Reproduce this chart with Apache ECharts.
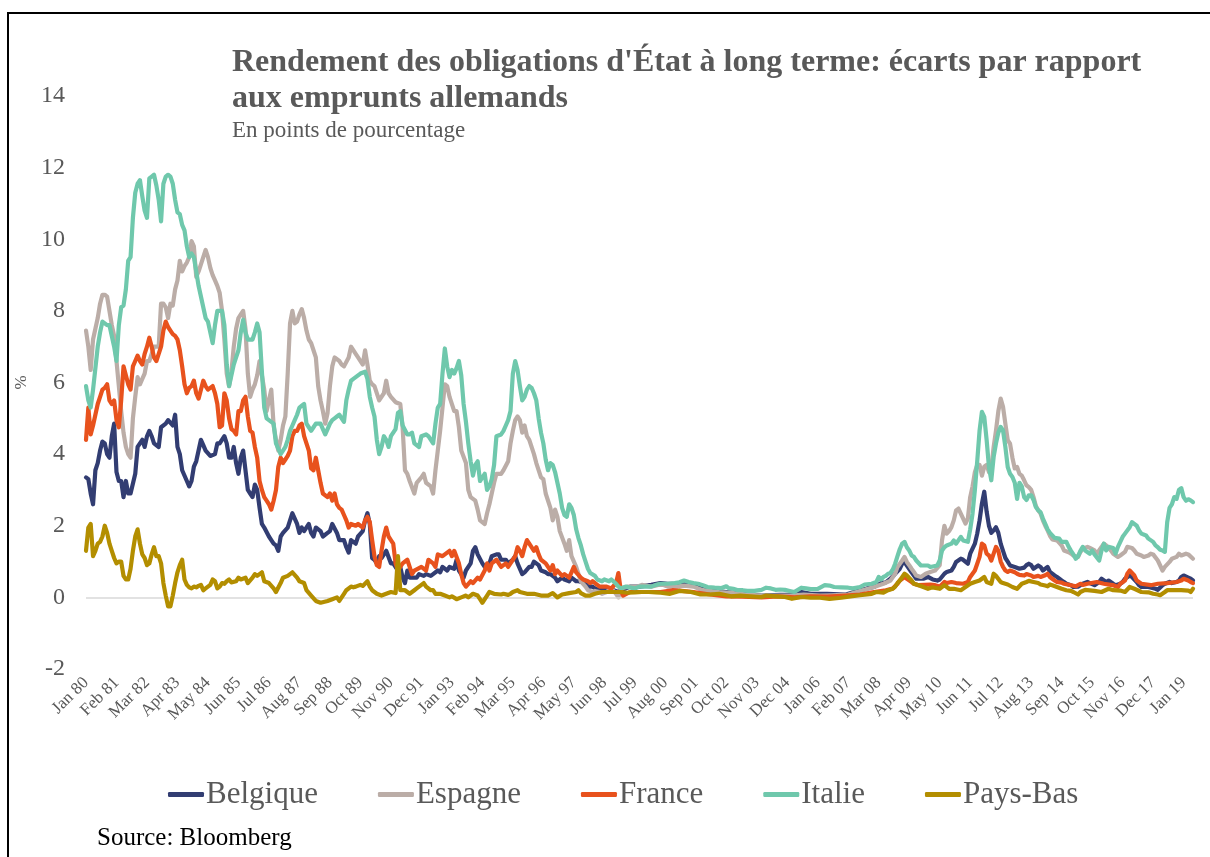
<!DOCTYPE html>
<html>
<head>
<meta charset="utf-8">
<script src="https://cdn.jsdelivr.net/npm/echarts@6/dist/echarts.min.js"></script>
<style>
html,body{margin:0;padding:0;background:#fff;}
#chart{width:1210px;height:857px;}
</style>
</head>
<body>
<div id="chart"></div>
<script>
// x = months since Jan 1980
var tickLabels = ['Jan 80','Feb 81','Mar 82','Apr 83','May 84','Jun 85','Jul 86','Aug 87','Sep 88','Oct 89','Nov 90','Dec 91','Jan 93','Feb 94','Mar 95','Apr 96','May 97','Jun 98','Jul 99','Aug 00','Sep 01','Oct 02','Nov 03','Dec 04','Jan 06','Feb 07','Mar 08','Apr 09','May 10','Jun 11','Jul 12','Aug 13','Sep 14','Oct 15','Nov 16','Dec 17','Jan 19'];
var seriesNames = ['Belgique','Espagne','France','Italie','Pays-Bas'];

var belgique = [[0,3.35],[1,3.3],[2,2.9],[3,2.6],[4,3.55],[5,3.75],[6,4.1],[7,4.35],[8,4.3],[9,4.0],[10,3.9],[11,4.5],[12,4.85],[13,3.5],[14,3.25],[15,3.25],[16,2.8],[17,3.25],[18,2.9],[19,2.9],[21,3.45],[22,4.2],[24,4.4],[25,4.2],[26,4.5],[27,4.65],[28,4.5],[29,4.3],[31,4.2],[32,4.75],[34,4.85],[35,4.95],[37,4.8],[38,5.1],[39,4.2],[40,4.0],[41,3.55],[43,3.25],[44,3.1],[45,3.25],[46,3.65],[47,3.8],[49,4.4],[50,4.25],[51,4.1],[53,3.95],[55,4.0],[56,4.3],[57,4.3],[59,4.5],[60,4.3],[61,3.9],
[62,3.9],[63,4.2],[64,3.75],[65,3.45],[66,3.9],[67,4.1],[68,3.55],[69,3.0],[70,2.9],[71,2.8],[72,3.15],[73,3.0],[74,2.5],[75,2.05],[76,1.95],[78,1.7],[79,1.6],[80,1.5],[81,1.45],[82,1.3],[83,1.7],[84,1.8],[86,1.95],[87,2.15],[88,2.35],[89,2.2],[90,2.05],[91,1.8],[92,1.95],[93,1.85],[95,2.05],[96,1.8],[97,1.7],[98,1.95],[100,1.85],[101,1.7],[103,1.8],[104,1.85],[105,2.05],[107,1.8],[108,1.6],[110,1.6],[111,1.4],[112,1.25],[113,1.6],[115,1.5],[116,1.7],[118,1.85],[119,2.15],[120,2.35],[121,2.05],[122,1.1],
[123,1.05],[124,0.95],[125,1.15],[126,1.1],[128,1.3],[130,0.95],[131,0.95],[133,0.75],[134,0.85],[135,0.55],[136,0.4],[137,0.75],[138,0.55],[141,0.55],[142,0.65],[144,0.6],[145,0.65],[147,0.6],[148,0.65],[150,0.75],[151,0.7],[152,0.85],[154,0.75],[155,0.85],[157,0.8],[158,1.05],[159,0.75],[161,0.55],[162,0.75],[164,0.95],[165,1.3],[166,1.4],[167,1.2],[169,0.95],[170,0.85],[172,0.95],[173,1.15],[175,1.2],[176,1.2],[177,1.05],[179,1.05],[180,0.95],[182,1.05],[183,1.15],[184,0.95],
[186,0.65],[187,0.7],[189,0.85],[190,0.85],[191,1.0],[193,0.9],[194,0.75],[196,0.7],[197,0.65],[198,0.65],[200,0.55],[201,0.45],[203,0.55],[204,0.5],[206,0.45],[207,0.55],[209,0.45],[210,0.45],[213,0.4],[214,0.3],[216,0.3],[217,0.25],[219,0.2],[221,0.2],[223,0.2],[225,0.2],[227,0.15],[228,0.2],[230,0.25],[232,0.3],[236,0.3],[241,0.35],[245,0.4],
[248,0.38],[253,0.38],[259,0.34],[266,0.2],[273,0.15],[280,0.1],[288,0.05],[296,0.07],[302,0.07],[305,0.15],[309,0.1],[316,0.1],[324,0.08],[330,0.2],[333,0.25],[336,0.29],[339,0.4],[341,0.42],[343,0.52],[345,0.66],[347,0.8],[348,0.94],[349,0.99],[350,0.89],[352,0.7],[353,0.61],[354,0.52],[357,0.52],[359,0.57],[361,0.5],[363,0.47],[364,0.5],[366,0.66],[367,0.71],[369,0.75],[370,0.85],[371,0.99],[373,1.08],[374,1.05],[376,0.94],[377,1.22],[379,1.5],[380,1.78],[381,2.15],[382,2.62],[383,2.95],[384,2.4],[385,2.0],[386,1.8],[387,1.87],[388,1.96],[389,1.8],[390,1.5],[391,1.3],[392,1.1],[393,1.0],[394,0.89],[396,0.85],[398,0.8],[400,0.83],[401,0.9],[402,0.94],[403,0.9],[404,0.8],[406,0.89],[407,0.85],[408,0.75],[410,0.85],[411,0.71],[413,0.61],[414,0.57],[416,0.47],[417,0.43],[418,0.38],[420,0.34],[421,0.29],[423,0.3],[424,0.34],[425,0.38],[427,0.43],[428,0.4],[430,0.34],[432,0.43],[433,0.52],[435,0.43],[436,0.47],[438,0.38],[439,0.34],[441,0.38],[442,0.43],[443,0.52],[445,0.61],[446,0.57],[448,0.43],[449,0.34],[450,0.29],[453,0.29],[456,0.24],[457,0.21],[459,0.34],[460,0.38],[462,0.43],[463,0.4],[465,0.43],[466,0.47],[467,0.57],[468,0.61],[470,0.55],[471,0.52],[472,0.47]];

var espagne = [[0,7.45],[1,7.0],[2,6.35],[3,7.2],[4,7.5],[5,7.8],[6,8.2],[7,8.45],[8,8.45],[9,8.4],[10,8.0],[11,7.6],[12,7.3],[13,6.6],[14,5.9],[15,5.2],[16,4.6],[17,4.2],[18,4.0],[19,3.9],[20,5.0],[21,5.6],[22,6.15],[23,5.95],[24,6.1],[25,6.25],[26,6.6],[27,6.6],[28,6.8],[29,7.0],[30,7.0],[31,7.0],[32,8.2],[33,8.2],[34,8.1],[35,7.8],[36,8.2],[37,8.15],[38,8.6],[39,8.85],[40,9.4],[41,9.1],[42,9.25],[43,9.35],[44,9.5],[45,9.95],[46,9.8],[47,8.95],[48,9.1],[49,9.3],[50,9.5],[51,9.7],[52,9.5],[53,9.2],[54,9.0],[55,8.85],[56,8.7],[57,8.5],[58,8.0],[59,7.2],[60,6.25],[61,5.9],
[62,6.3],[63,7.0],[64,7.5],[65,7.8],[66,7.9],[67,8.0],[68,7.5],[69,6.25],[70,5.6],[71,5.8],[72,5.95],[73,6.2],[74,6.6],[75,6.2],[76,5.8],[77,5.2],[78,5.5],[79,5.8],[80,4.8],[81,4.4],[82,4.1],[83,4.4],[84,4.8],[85,5.05],[86,6.25],[87,7.65],[88,8.0],[89,7.65],[90,7.7],[91,7.9],[92,8.05],[93,7.8],[94,7.45],[95,7.2],[96,7.1],[97,6.9],[98,6.7],[99,5.9],[100,5.5],[101,5.2],[102,4.85],[103,5.15],[104,5.9],[105,6.45],[106,6.7],[108,6.6],[109,6.5],[110,6.45],[112,6.7],[113,7.0],[115,6.8],[116,6.7],[118,6.5],[119,6.9],[120,6.5],[121,6.05],[122,5.95],
[123,5.9],[125,5.5],[127,5.7],[128,6.05],[129,5.7],[130,5.6],[132,5.45],[134,5.4],[135,4.75],[136,3.55],[137,3.45],[138,3.25],[140,2.9],[141,3.2],[143,3.35],[144,3.45],[145,3.2],[147,3.1],[148,2.9],[149,3.55],[150,4.1],[151,4.65],[152,5.3],[153,5.95],[154,5.9],[155,5.6],[157,5.2],[158,5.2],[159,4.75],[160,4.1],[162,3.75],[163,3.0],[164,2.8],[166,2.7],[167,2.45],[168,2.15],[170,2.05],[171,2.35],[172,2.6],[173,2.9],[174,3.2],[175,3.45],[177,3.45],[178,3.55],[180,3.8],[181,4.3],[182,4.65],[183,4.95],[184,5.05],[185,4.95],
[186,4.6],[187,4.8],[188,4.5],[189,4.4],[191,4.0],[192,3.75],[194,3.35],[195,3.3],[196,2.9],[198,2.5],[199,2.15],[200,2.45],[201,2.25],[202,1.85],[204,1.5],[205,1.3],[206,1.6],[207,1.15],[209,0.85],[210,0.65],[211,0.45],[213,0.3],[214,0.2],[216,0.15],[217,0.18],[219,0.15],[220,0.1],[222,0.15],[224,0.25],[226,0.1],[227,0.0],[228,0.25],[231,0.3],[235,0.3],[237,0.35],[241,0.3],[244,0.35],[246,0.35],
[248,0.3],[252,0.3],[255,0.33],[259,0.3],[263,0.2],[270,0.15],[276,0.12],[282,0.08],[288,0.05],[295,0.05],[301,0.05],[306,0.08],[313,0.05],[318,0.06],[325,0.08],[330,0.18],[336,0.29],[340,0.38],[343,0.47],[345,0.66],[346,0.85],[347,0.94],[348,1.03],[349,1.13],[350,0.99],[351,0.9],[352,0.8],[353,0.71],[354,0.61],[356,0.57],[358,0.66],[360,0.71],[362,0.75],[364,0.9],[365,1.6],[366,2.0],[367,1.78],[368,1.85],[369,1.96],[370,2.15],[371,2.43],[372,2.48],[373,2.34],[374,2.2],[375,2.06],[376,2.2],[377,2.8],[378,3.1],[379,3.5],[380,3.7],[381,3.7],[382,3.4],[383,3.65],[384,3.7],[385,3.5],[386,3.6],[387,4.2],[388,4.66],[389,5.2],[390,5.55],[391,5.32],[392,4.85],[393,4.39],[394,4.29],[395,3.9],[396,3.6],[397,3.64],[398,3.45],[399,3.4],[400,3.27],[401,3.13],[402,3.08],[403,3.0],[404,2.8],[405,2.55],[406,2.43],[407,2.34],[408,2.15],[409,2.0],[410,1.87],[411,1.72],[412,1.62],[414,1.59],[415,1.52],[416,1.45],[417,1.31],[419,1.26],[420,1.22],[421,1.17],[423,1.13],[424,1.27],[425,1.36],[427,1.41],[428,1.38],[430,1.31],[431,1.22],[433,1.41],[434,1.5],[435,1.45],[437,1.31],[438,1.22],[440,1.13],[441,1.17],[443,1.27],[444,1.41],[446,1.38],[447,1.31],[448,1.22],[450,1.17],[451,1.13],[453,1.17],[454,1.22],[455,1.2],[457,1.03],[458,0.89],[459,0.75],[460,0.85],[462,0.99],[463,1.08],[465,1.13],[466,1.22],[467,1.17],[469,1.22],[470,1.2],[472,1.08]];

var france = [[0,4.4],[1,5.3],[2,4.55],[3,4.8],[4,5.1],[5,5.4],[6,5.6],[7,5.8],[8,5.85],[9,5.95],[10,5.5],[11,5.4],[12,5.5],[13,4.95],[14,4.75],[15,5.5],[16,6.45],[17,6.2],[18,5.95],[19,5.8],[20,6.45],[21,6.6],[22,6.75],[23,6.6],[24,6.5],[25,6.8],[26,7.0],[27,7.25],[28,7.0],[29,6.7],[30,6.6],[31,6.8],[32,7.0],[33,7.45],[34,7.7],[35,7.55],[36,7.45],[37,7.35],[38,7.3],[39,7.2],[40,6.9],[41,6.45],[42,5.95],[43,5.7],[44,5.85],[45,5.9],[46,6.05],[47,5.7],[48,5.55],[49,5.8],[50,6.05],[51,5.9],[52,5.8],[54,5.9],[55,5.7],[56,5.4],[57,4.75],[58,4.8],[59,5.7],[60,5.5],[61,5.0],
[62,4.7],[63,4.65],[64,4.55],[65,5.2],[66,5.2],[67,5.5],[68,5.6],[69,5.05],[70,4.65],[71,4.6],[72,4.2],[73,3.9],[74,3.25],[75,3.0],[76,2.8],[77,2.7],[78,2.6],[79,2.45],[80,2.7],[81,3.0],[82,3.65],[83,3.9],[84,3.75],[85,3.85],[86,3.95],[87,4.1],[88,4.5],[89,4.65],[90,4.65],[91,4.8],[92,4.85],[93,4.5],[94,4.3],[95,4.1],[96,3.6],[97,3.55],[98,3.9],[99,3.55],[100,3.2],[101,2.9],[103,2.8],[104,2.9],[105,2.7],[106,2.9],[107,2.6],[108,2.5],[109,2.45],[110,2.3],[111,2.15],[112,1.95],[113,2.05],[115,2.0],[116,2.05],[118,1.95],[119,2.15],[120,2.25],[121,2.1],[122,1.6],
[123,1.15],[124,0.9],[125,0.85],[126,1.3],[127,1.7],[128,1.95],[129,1.7],[130,1.6],[131,1.5],[132,0.95],[133,0.75],[134,0.85],[135,0.95],[137,1.05],[138,0.85],[139,0.65],[140,0.75],[143,0.85],[145,0.75],[146,1.05],[148,0.95],[149,0.85],[150,1.2],[152,1.15],[153,1.2],[155,1.3],[156,1.15],[157,1.3],[159,0.95],[160,0.65],[161,0.4],[162,0.3],[164,0.45],[165,0.4],[167,0.55],[168,0.5],[170,0.75],[171,0.95],[172,0.75],[173,0.95],[175,1.05],[176,0.95],[177,0.85],[179,0.95],[180,0.85],[182,1.05],[183,1.15],
[184,1.4],[185,1.3],[186,1.15],[187,1.4],[188,1.6],[189,1.5],[191,1.3],[192,1.4],[193,1.2],[194,1.05],[196,0.95],[197,0.85],[198,0.75],[199,0.9],[200,0.65],[201,0.75],[203,0.6],[204,0.65],[206,0.55],[207,0.7],[208,0.85],[209,0.7],[211,0.55],[212,0.5],[214,0.45],[215,0.4],[216,0.45],[218,0.35],[219,0.3],[222,0.3],[224,0.25],[226,0.4],[227,0.68],[228,0.2],[229,0.05],[232,0.15],[243,0.15],
[245,0.15],[250,0.2],[254,0.18],[259,0.15],[266,0.08],[273,0.03],[280,0.02],[288,0.0],[295,0.03],[302,0.0],[309,0.03],[316,0.02],[324,0.05],[330,0.08],[336,0.15],[341,0.2],[344,0.25],[346,0.38],[347,0.47],[349,0.57],[350,0.52],[352,0.43],[353,0.38],[355,0.34],[360,0.36],[362,0.34],[364,0.3],[366,0.43],[367,0.4],[369,0.43],[371,0.4],[374,0.38],[376,0.43],[377,0.57],[379,0.75],[380,0.94],[381,1.13],[382,1.5],[383,1.45],[384,1.22],[385,1.17],[386,1.03],[387,1.22],[388,1.41],[389,1.3],[390,1.0],[391,0.85],[392,0.75],[393,0.71],[394,0.75],[396,0.7],[397,0.66],[398,0.63],[400,0.61],[401,0.65],[403,0.61],[404,0.57],[406,0.6],[407,0.57],[409,0.62],[410,0.66],[411,0.57],[413,0.47],[414,0.43],[416,0.41],[417,0.38],[420,0.34],[422,0.31],[424,0.38],[425,0.35],[427,0.38],[431,0.43],[434,0.38],[437,0.35],[438,0.34],[440,0.29],[441,0.38],[443,0.47],[444,0.66],[445,0.75],[447,0.61],[448,0.47],[450,0.38],[454,0.34],[457,0.38],[461,0.4],[465,0.43],[467,0.47],[468,0.52],[470,0.47],[471,0.43],[472,0.4]];

var italie = [[0,5.9],[1,5.5],[2,5.3],[3,5.8],[4,6.4],[5,7.0],[6,7.4],[7,7.7],[8,7.65],[9,7.6],[10,7.6],[11,7.3],[12,7.0],[13,6.6],[14,7.6],[15,8.1],[16,8.15],[17,8.6],[18,9.4],[19,9.5],[20,10.6],[21,11.3],[22,11.55],[23,11.65],[24,11.2],[25,10.8],[26,10.6],[27,11.7],[28,11.75],[29,11.8],[30,11.5],[31,11.1],[32,10.5],[33,11.55],[34,11.75],[35,11.8],[36,11.75],[37,11.55],[38,11.1],[39,10.75],[40,10.7],[41,10.4],[42,10.25],[43,9.8],[44,9.5],[45,9.6],[46,9.5],[47,9.1],[48,8.7],[49,8.4],[50,8.1],[51,7.8],[52,7.7],[53,7.4],[54,7.1],[55,7.6],[56,8.0],[57,8.0],[58,8.0],[59,7.6],[60,6.5],[61,5.9],
[62,6.2],[63,6.5],[64,6.7],[65,6.9],[66,7.4],[67,7.75],[68,7.4],[69,7.2],[70,7.2],[71,7.2],[72,7.4],[73,7.65],[74,7.4],[75,6.3],[76,5.3],[77,5.0],[78,4.95],[79,4.9],[80,4.85],[81,4.3],[82,4.15],[83,4.0],[84,4.1],[85,4.2],[86,4.4],[87,4.65],[88,4.8],[89,4.95],[90,5.1],[91,5.3],[92,5.35],[93,5.4],[94,4.85],[95,4.75],[96,4.65],[97,4.75],[98,4.85],[99,4.85],[100,4.85],[101,4.7],[102,4.55],[103,4.7],[104,4.85],[105,4.95],[106,5.0],[107,5.05],[108,5.1],[110,4.9],[111,5.5],[112,5.8],[113,6.05],[114,6.1],[115,6.15],[117,6.25],[119,6.3],[120,6.1],[121,5.6],[122,5.3],
[123,5.05],[124,4.4],[125,4.0],[126,4.2],[127,4.5],[128,4.4],[129,4.2],[130,4.5],[132,4.7],[133,5.15],[134,5.2],[135,4.8],[137,4.55],[138,4.55],[139,4.6],[140,4.3],[142,4.2],[143,4.5],[145,4.55],[146,4.5],[148,4.3],[149,4.85],[150,5.3],[151,5.4],[152,6.25],[153,6.95],[154,6.45],[155,6.15],[156,6.35],[157,6.25],[158,6.4],[159,6.6],[160,6.2],[161,5.4],[162,4.9],[163,4.3],[164,3.8],[165,3.4],[166,3.7],[167,3.8],[168,3.25],[169,3.35],[170,3.45],[171,3.0],[172,3.1],[173,3.3],[174,3.7],[175,4.5],[177,4.55],[178,4.65],[179,4.8],[180,4.95],[181,5.2],[182,6.25],[183,6.6],[184,6.35],[185,5.9],
[186,5.5],[187,5.6],[188,5.8],[189,5.9],[190,5.85],[191,5.7],[192,5.5],[193,5.0],[194,4.6],[195,4.3],[196,3.85],[197,3.55],[198,3.75],[199,3.7],[200,3.5],[201,3.2],[202,2.9],[203,2.5],[204,2.3],[205,2.25],[206,2.6],[207,2.5],[208,2.3],[209,1.9],[210,1.65],[211,1.45],[212,1.2],[213,1.0],[214,0.8],[215,0.68],[217,0.6],[218,0.5],[220,0.45],[221,0.5],[223,0.45],[224,0.5],[226,0.38],[227,0.3],[228,0.25],[230,0.3],[234,0.25],[236,0.3],[241,0.3],[243,0.35],[245,0.38],
[248,0.38],[251,0.4],[253,0.42],[255,0.47],[257,0.43],[259,0.4],[261,0.38],[263,0.34],[265,0.29],[268,0.27],[271,0.26],[273,0.31],[274,0.26],[276,0.24],[278,0.2],[280,0.2],[282,0.18],[285,0.18],[288,0.21],[290,0.27],[292,0.25],[294,0.21],[296,0.22],[298,0.21],[300,0.18],[302,0.15],[305,0.27],[307,0.25],[309,0.23],[312,0.24],[315,0.34],[317,0.33],[319,0.29],[322,0.28],[325,0.27],[327,0.25],[330,0.29],[332,0.36],[335,0.38],[337,0.43],[338,0.57],[339,0.5],[340,0.57],[341,0.6],[342,0.66],[343,0.68],[344,0.78],[345,0.94],[346,1.15],[347,1.35],[348,1.5],[349,1.55],[350,1.4],[351,1.31],[352,1.17],[353,1.13],[354,1.03],[356,0.89],[359,0.89],[360,0.85],[363,0.89],[364,1.03],[365,1.31],[366,1.4],[367,1.45],[369,1.5],[370,1.59],[371,1.5],[373,1.69],[374,1.59],[376,1.55],[377,1.9],[378,2.34],[379,3.0],[380,3.8],[381,4.66],[382,5.18],[383,5.04],[384,4.4],[385,3.64],[386,3.27],[387,3.92],[388,4.3],[389,4.6],[390,4.76],[391,4.66],[392,4.2],[393,3.64],[394,3.45],[395,3.36],[396,3.2],[397,2.75],[398,3.2],[399,3.1],[400,2.8],[401,2.72],[402,2.85],[403,2.85],[404,2.72],[405,2.52],[406,2.43],[407,2.38],[408,2.2],[409,2.05],[410,1.9],[411,1.8],[412,1.73],[413,1.66],[415,1.64],[416,1.55],[418,1.55],[419,1.41],[420,1.3],[421,1.2],[422,1.08],[423,1.15],[424,1.3],[425,1.41],[426,1.31],[428,1.22],[429,1.31],[430,1.2],[432,1.03],[433,1.31],[434,1.5],[435,1.31],[436,1.41],[438,1.38],[439,1.22],[440,1.41],[442,1.69],[443,1.78],[445,1.96],[446,2.1],[448,2.0],[449,1.87],[450,1.78],[452,1.73],[453,1.64],[455,1.55],[456,1.45],[457,1.4],[458,1.33],[459,1.31],[460,1.27],[461,2.1],[462,2.5],[463,2.6],[464,2.8],[465,2.75],[466,3.0],[467,3.05],[468,2.8],[469,2.7],[470,2.74],[471,2.71],[472,2.66]];

var paysBas = [[0,1.3],[1,1.95],[2,2.05],[3,1.15],[4,1.3],[5,1.5],[6,1.55],[7,1.7],[8,2.0],[9,1.8],[10,1.5],[11,1.3],[12,1.1],[13,0.95],[14,1.0],[15,1.0],[16,0.6],[17,0.5],[18,0.5],[19,0.8],[20,1.3],[21,1.7],[22,1.9],[23,1.5],[24,1.2],[25,1.1],[26,0.9],[27,0.95],[28,1.2],[29,1.4],[30,1.15],[31,1.15],[32,0.95],[33,0.4],[34,0.05],[35,-0.25],[36,-0.25],[37,0.05],[38,0.4],[39,0.7],[40,0.9],[41,1.05],[42,0.5],[43,0.35],[44,0.28],[45,0.25],[46,0.3],[47,0.28],[48,0.32],[49,0.35],[50,0.2],[51,0.25],[52,0.3],[53,0.35],[54,0.5],[55,0.45],[56,0.25],[57,0.3],[58,0.4],[59,0.38],[60,0.45],[61,0.5],
[62,0.42],[64,0.45],[65,0.55],[66,0.5],[68,0.55],[69,0.4],[71,0.55],[72,0.65],[73,0.6],[75,0.7],[76,0.45],[78,0.4],[80,0.25],[81,0.15],[83,0.4],[84,0.55],[86,0.6],[87,0.65],[88,0.7],[90,0.55],[91,0.45],[93,0.4],[94,0.2],[96,0.05],[98,-0.1],[100,-0.15],[103,-0.1],[105,-0.05],[107,0.0],[108,-0.1],[110,0.1],[111,0.2],[113,0.3],[114,0.28],[115,0.3],[117,0.35],[118,0.32],[120,0.45],[121,0.3],[122,0.2],
[124,0.1],[126,0.05],[128,0.1],[130,0.15],[132,0.12],[133,1.15],[134,0.2],[136,0.2],[138,0.1],[140,0.2],[141,0.25],[142,0.3],[144,0.4],[145,0.3],[147,0.2],[148,0.2],[149,0.1],[151,0.1],[153,0.05],[155,0.0],[156,0.03],[158,-0.05],[160,0.0],[162,0.05],[163,0.0],[165,0.1],[167,0.05],[168,-0.05],[169,-0.15],[171,0.05],[172,0.15],[174,0.1],[177,0.08],[178,0.1],[180,0.07],[181,0.1],[182,0.15],[184,0.2],[185,0.15],
[188,0.1],[191,0.1],[194,0.05],[197,0.05],[199,0.12],[201,0.0],[203,0.08],[206,0.12],[209,0.15],[210,0.2],[211,0.12],[213,0.05],[215,0.05],[217,0.1],[220,0.15],[224,0.15],[228,0.15],[231,0.13],[234,0.14],[237,0.15],[240,0.15],[243,0.14],[245,0.13],
[249,0.1],[253,0.18],[258,0.15],[262,0.08],[266,0.08],[270,0.1],[275,0.03],[279,0.05],[283,0.03],[288,0.01],[290,0.05],[294,0.03],[298,0.01],[301,-0.04],[305,0.01],[309,-0.01],[313,-0.01],[317,-0.04],[322,-0.01],[326,0.03],[330,0.06],[335,0.1],[337,0.15],[340,0.13],[342,0.2],[344,0.24],[345,0.3],[346,0.4],[347,0.47],[349,0.66],[350,0.61],[352,0.47],[353,0.38],[355,0.34],[357,0.29],[359,0.24],[361,0.28],[364,0.24],[366,0.34],[368,0.24],[370,0.24],[373,0.2],[375,0.29],[377,0.38],[379,0.43],[381,0.47],[383,0.57],[384,0.43],[386,0.38],[387,0.66],[388,0.6],[390,0.43],[391,0.4],[393,0.36],[395,0.29],[397,0.24],[399,0.38],[401,0.43],[402,0.46],[404,0.43],[406,0.4],[407,0.36],[409,0.33],[410,0.31],[411,0.36],[412,0.34],[414,0.29],[416,0.24],[418,0.2],[420,0.18],[421,0.15],[423,0.08],[424,0.15],[426,0.21],[430,0.18],[433,0.15],[436,0.24],[438,0.2],[441,0.19],[443,0.15],[445,0.29],[447,0.24],[450,0.15],[453,0.14],[455,0.1],[457,0.08],[458,0.06],[460,0.15],[461,0.2],[464,0.2],[467,0.2],[470,0.19],[471,0.15],[472,0.24]];

var colors = ['#323D72','#BBADA7','#E8521D','#6FC8AC','#B38E00'];
var FONT = "'Liberation Serif','Times New Roman',serif";
var TXT = '#595959';

var chart = echarts.init(document.getElementById('chart'), null, {renderer:'canvas'});

function mkSeries(name, data, idx){
  return {
    name: name, type: 'line', data: data, showSymbol: false, symbol: 'none',
    animation: false, silent: true,
    lineStyle: {width: 4.2, color: colors[idx], cap: 'round', join: 'round'},
    itemStyle: {color: colors[idx]},
    z: 3 + idx
  };
}

var allData = [belgique, espagne, france, italie, paysBas];
var series = allData.map(function(d, i){ return mkSeries(seriesNames[i], d, i); });
series[0].markLine = {
  silent: true, symbol: 'none', animation: false,
  label: {show: false},
  lineStyle: {color: '#D9D9D9', type: 'solid', width: 1.5},
  data: [{yAxis: 0}]
};
series[0].z = 2;

chart.setOption({
  animation: false,
  color: colors,
  title: {
    text: "Rendement des obligations d'État à long terme: écarts par rapport\naux emprunts allemands",
    subtext: 'En points de pourcentage',
    left: 232, top: 45, itemGap: 2, padding: 0,
    textStyle: {fontFamily: FONT, fontWeight: 'bold', fontSize: 32, color: TXT, lineHeight: 36},
    subtextStyle: {fontFamily: FONT, fontSize: 23, color: TXT, lineHeight: 24}
  },
  legend: {
    data: seriesNames,
    left: 163, top: 774,
    icon: 'roundRect', itemWidth: 36, itemHeight: 5, itemGap: 60,
    textStyle: {fontFamily: FONT, fontSize: 31, color: TXT, padding: [0,0,0,-3]},
    selectedMode: false
  },
  grid: {left: 86, right: 17, top: 96, bottom: 188, containLabel: false},
  xAxis: {
    type: 'value', min: 0, max: 472, interval: 13,
    axisLine: {show: false}, axisTick: {show: false}, splitLine: {show: false},
    axisLabel: {
      rotate: 45, margin: 11, fontFamily: FONT, fontSize: 17, color: TXT,
      formatter: function(v){ return (v % 13 === 0 && v / 13 < tickLabels.length) ? tickLabels[v / 13] : ''; }
    }
  },
  yAxis: {
    type: 'value', min: -2, max: 14, interval: 2,
    name: '%', nameLocation: 'middle', nameGap: 49, nameRotate: 90,
    nameTextStyle: {fontFamily: FONT, fontSize: 17, color: TXT},
    axisLine: {show: false}, axisTick: {show: false}, splitLine: {show: false},
    axisLabel: {margin: 21, fontFamily: FONT, fontSize: 24, color: TXT}
  },
  graphic: [
    {type: 'rect', silent: true, shape: {x: 8, y: 13, width: 1300, height: 1000},
     style: {fill: 'none', stroke: '#000', lineWidth: 2}},
    {type: 'text', silent: true, left: 97, top: 826,
     style: {text: 'Source: Bloomberg', fontFamily: FONT, fontSize: 25, fill: '#000'}}
  ],
  series: series
});
</script>
</body>
</html>
